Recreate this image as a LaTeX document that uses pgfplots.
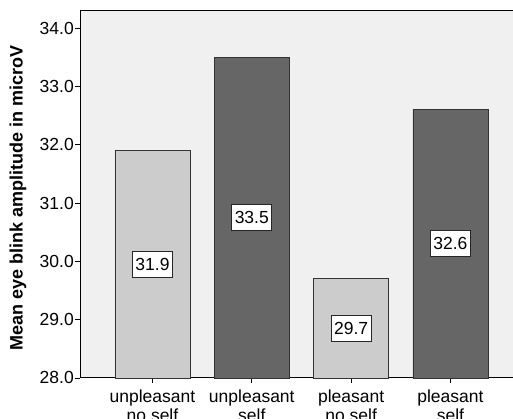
\documentclass[border=0pt]{standalone}
\usepackage{pgfplots}
\pgfplotsset{compat=1.18}
\usepackage{fontspec}
\setmainfont{Liberation Sans}

\definecolor{panel}{HTML}{F0F0F0}
\definecolor{lightbar}{HTML}{CCCCCC}
\definecolor{darkbar}{HTML}{666666}

\begin{document}
\begin{tikzpicture}
\begin{axis}[
  scale only axis,
  width=450pt, height=368pt,
  xmin=-0.73, xmax=3.8,
  ymin=28, ymax=34.31,
  axis background/.style={fill=panel},
  axis line style={black, line width=0.9pt},
  ybar, bar width=0.755, bar shift=0pt,
  xtick={0,1,2,3},
  xticklabels={{unpleasant\\no self},{unpleasant\\self},{pleasant\\no self},{pleasant\\self}},
  ytick={28,29,...,34},
  tick align=outside,
  major tick length=5pt,
  tick style={black, line width=0.8pt},
  xtick pos=bottom, ytick pos=left,
  /pgf/number format/assume math mode=true,
  yticklabel style={/pgf/number format/.cd, fixed, fixed zerofill, precision=1, /tikz/.cd,
    font=\fontsize{17.5}{19}\selectfont, inner sep=1pt},
  xticklabel style={font=\fontsize{17.5}{19}\selectfont, align=center, inner sep=2pt, yshift=-5pt},
  ylabel={Mean eye blink amplitude in microV},
  ylabel style={font=\fontsize{18}{20}\selectfont\bfseries,
    at={([xshift=-62pt]rel axis cs:0,0.49)}, anchor=center, rotate=0},
  clip=false,
]
\addplot[fill=lightbar, draw=black!80, line width=0.8pt] coordinates {(0,31.9) (2,29.7)};
\addplot[fill=darkbar, draw=black!80, line width=0.8pt] coordinates {(1,33.5) (3,32.6)};
% value labels at the middle of each bar
\addplot[draw=none, mark=none, nodes near coords, point meta=explicit symbolic,
  every node near coord/.style={anchor=center, fill=white, draw=black!85, line width=0.7pt,
    font=\fontsize{17.5}{19}\selectfont, inner xsep=3pt, minimum height=26pt}]
  coordinates {(0,29.95)[31.9] (1,30.75)[33.5] (2,28.85)[29.7] (3,30.3)[32.6]};
\coordinate (bl) at (rel axis cs:0,0);
\coordinate (tr) at (axis cs:3.63,34.31);
\end{axis}
\pgfresetboundingbox
\path[use as bounding box] ([xshift=-80pt,yshift=-41pt]bl) rectangle ([yshift=10pt]tr);
\end{tikzpicture}
\end{document}
